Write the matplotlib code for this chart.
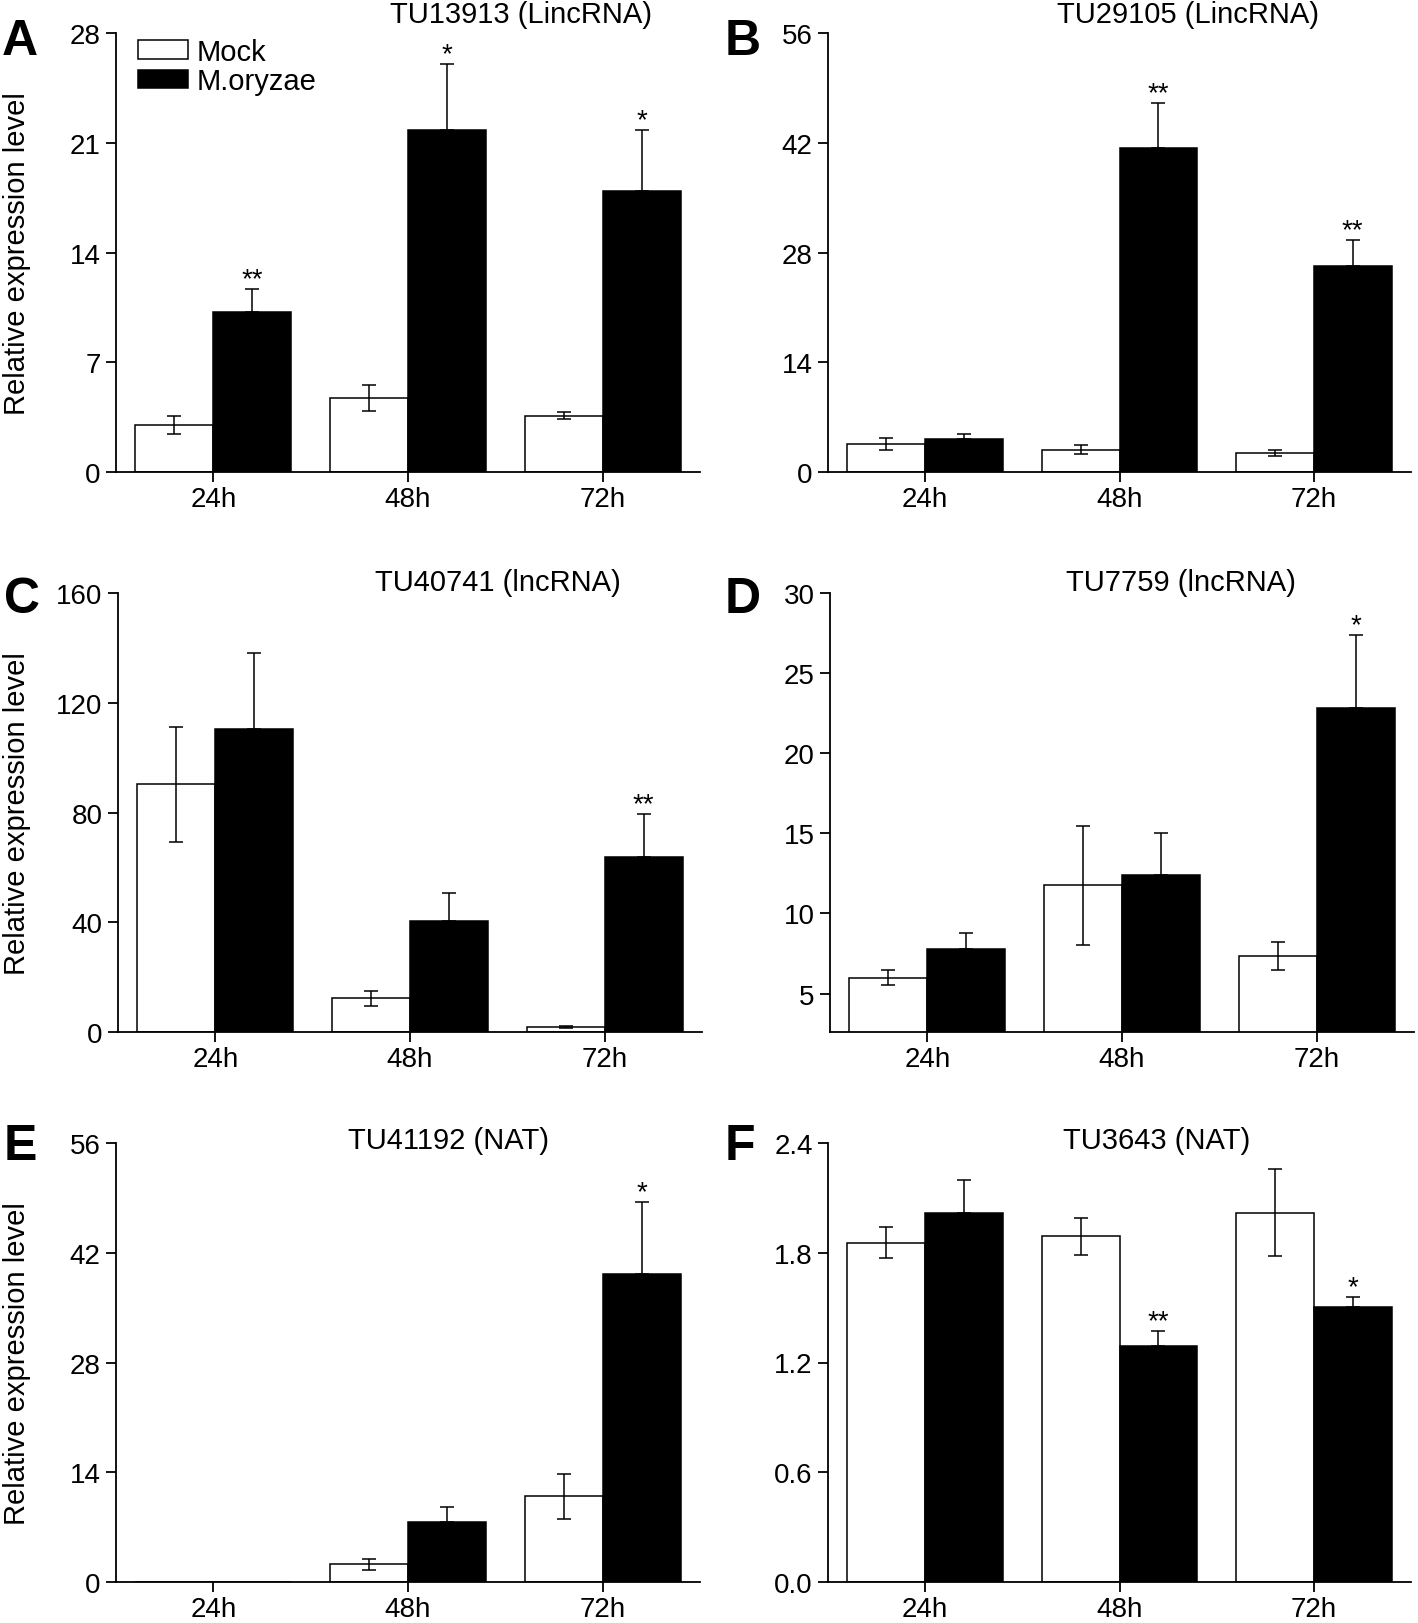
import matplotlib
matplotlib.use("Agg")
import matplotlib.pyplot as plt
import numpy as np

plt.rcParams["font.family"] = ["Liberation Sans", "DejaVu Sans"]

# ---- data ----
times = ["24h", "48h", "72h"]
groups = ["Mock", "M.oryzae"]

a_title = "TU13913 (LincRNA)"
a_mock = [3.0, 4.7, 3.6]
a_mock_err = [0.55, 0.83, 0.2]
a_mo = [10.2, 21.8, 17.9]
a_mo_err = [1.45, 4.24, 3.94]
a_stars = ["**", "*", "*"]
a_ticks = [0, 7, 14, 21, 28]

b_title = "TU29105 (LincRNA)"
b_mock = [3.6, 2.85, 2.4]
b_mock_err = [0.8, 0.6, 0.38]
b_mo = [4.25, 41.3, 26.3]
b_mo_err = [0.55, 5.8, 3.3]
b_stars = ["", "**", "**"]
b_ticks = [0, 14, 28, 42, 56]

c_title = "TU40741 (lncRNA)"
c_mock = [90.3, 12.3, 1.8]
c_mock_err = [21.0, 2.7, 0.4]
c_mo = [110.6, 40.6, 63.9]
c_mo_err = [27.4, 9.9, 15.5]
c_stars = ["", "", "**"]
c_ticks = [0, 40, 80, 120, 160]

d_title = "TU7759 (lncRNA)"
d_mock = [6.0, 11.75, 7.35]
d_mock_err = [0.44, 3.7, 0.87]
d_mo = [7.77, 12.42, 22.8]
d_mo_err = [1.0, 2.63, 4.57]
d_stars = ["", "", "*"]
d_ticks = [5, 10, 15, 20, 25, 30]

e_title = "TU41192 (NAT)"
e_mock = [0.0, 2.26, 10.95]
e_mock_err = [0.0, 0.68, 2.85]
e_mo = [0.0, 7.67, 39.3]
e_mo_err = [0.0, 1.87, 9.2]
e_stars = ["", "", "*"]
e_ticks = [0, 14, 28, 42, 56]

f_title = "TU3643 (NAT)"
f_mock = [1.855, 1.89, 2.02]
f_mock_err = [0.085, 0.1, 0.24]
f_mo = [2.02, 1.29, 1.505]
f_mo_err = [0.177, 0.084, 0.051]
f_stars = ["", "**", "*"]
f_ticks = [0.0, 0.6, 1.2, 1.8, 2.4]

# ---- layout (pixels of the 1418x1624 canvas) ----
W, H = 1418, 1624
fig = plt.figure(figsize=(W / 100, H / 100), dpi=100)

panels = [
    # letter, box(left, top, right, bottom), ylim bottom, tick fmt, data..., title x/baseline, letter x/baseline, ylabel?
    ("A", (116, 34, 700, 473), 0, "{:g}", a_title, a_mock, a_mock_err, a_mo, a_mo_err, a_stars, a_ticks, 521, 23, 2, 55, True),
    ("B", (828, 34, 1411, 473), 0, "{:g}", b_title, b_mock, b_mock_err, b_mo, b_mo_err, b_stars, b_ticks, 1188, 23, 725, 55, False),
    ("C", (118, 594, 702, 1033), 0, "{:g}", c_title, c_mock, c_mock_err, c_mo, c_mo_err, c_stars, c_ticks, 498, 591, 4, 613, True),
    ("D", (830, 594, 1414, 1033), 2.6, "{:g}", d_title, d_mock, d_mock_err, d_mo, d_mo_err, d_stars, d_ticks, 1181, 591, 725, 613, False),
    ("E", (116, 1144, 700, 1583), 0, "{:g}", e_title, e_mock, e_mock_err, e_mo, e_mo_err, e_stars, e_ticks, 449, 1149, 4, 1160, True),
    ("F", (828, 1144, 1411, 1583), 0, "{:.1f}", f_title, f_mock, f_mock_err, f_mo, f_mo_err, f_stars, f_ticks, 1157, 1149, 725, 1160, False),
]

FS = 20
LW = 1.1
width = 0.4
x = np.arange(len(times))

for (letter, box, ybot, fmt, title, mock, mock_err, mo, mo_err, stars, ticks,
     tx, ty, lx, ly, ylab) in panels:
    left, top, right, bottom = box
    ax = fig.add_axes([left / W, 1 - bottom / H, (right - left) / W, (bottom - top) / H])

    mock = np.array(mock)
    mo = np.array(mo)
    mock_err = np.array(mock_err)
    mo_err = np.array(mo_err)

    b1 = ax.bar(x - width / 2, mock, width, color="white", edgecolor="black",
                linewidth=LW, zorder=2, label=groups[0])
    b2 = ax.bar(x + width / 2, mo, width, color="black", edgecolor="black",
                linewidth=LW, zorder=2, label=groups[1])

    # Mock: symmetric bars; M.oryzae: only the upper half shows
    keep = mock > 0
    ax.errorbar(x[keep] - width / 2, mock[keep], yerr=mock_err[keep], fmt="none",
                ecolor="black", elinewidth=LW, capsize=5, capthick=LW, zorder=3)
    keep = mo > 0
    ax.errorbar(x[keep] + width / 2, mo[keep],
                yerr=[np.zeros(keep.sum()), mo_err[keep]], fmt="none",
                ecolor="black", elinewidth=LW, capsize=5, capthick=LW, zorder=3)

    for i, s in enumerate(stars):
        if s:
            ax.annotate(s, (x[i] + width / 2, mo[i] + mo_err[i]), xytext=(0, 2),
                        textcoords="offset points", ha="center", va="baseline",
                        fontsize=20)

    ax.set_xlim(-0.5, 2.5)
    ax.set_ylim(ybot, ticks[-1])
    ax.set_xticks(x)
    ax.set_xticklabels(times)
    ax.set_yticks(ticks)
    ax.set_yticklabels([fmt.format(t) for t in ticks])
    for sp in ("top", "right"):
        ax.spines[sp].set_visible(False)
    for sp in ("left", "bottom"):
        ax.spines[sp].set_linewidth(1.3)
    ax.tick_params(direction="out", length=7, width=1.3, labelsize=FS)
    ax.tick_params(axis="y", pad=4)
    ax.tick_params(axis="x", pad=3)

    fig.text(tx / W, 1 - ty / H, title, ha="center", va="baseline", fontsize=21)
    fig.text(lx / W, 1 - ly / H, letter, ha="left", va="baseline",
             fontsize=36, fontweight="bold")
    if ylab:
        fig.text(17 / W, 1 - (top + bottom) / 2 / H, "Relative expression level",
                 rotation=90, ha="center", va="center", fontsize=21)

    if letter == "A":
        ax.legend(handles=[b1, b2], labels=groups, loc="upper left",
                  bbox_to_anchor=(138 / W, 1 - 39 / H), bbox_transform=fig.transFigure,
                  frameon=False, borderpad=0, borderaxespad=0, fontsize=21,
                  handlelength=1.7, handleheight=0.6, handletextpad=0.3,
                  labelspacing=0.05)

fig.savefig("out.png", dpi=100)
